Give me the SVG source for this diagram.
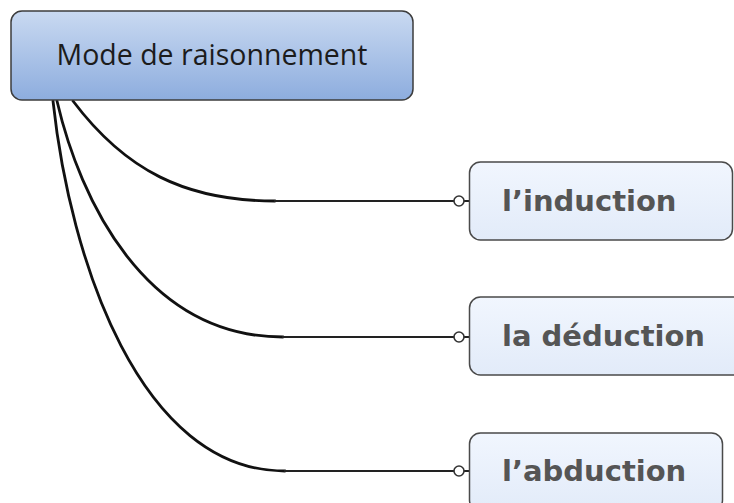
<svg xmlns="http://www.w3.org/2000/svg" width="734" height="503" viewBox="0 0 734 503">
<defs>
<linearGradient id="gMain" x1="0" y1="0" x2="0" y2="1">
<stop offset="0" stop-color="#c9d9f1"/>
<stop offset="1" stop-color="#8dadde"/>
</linearGradient>
<linearGradient id="gChild" x1="0" y1="0" x2="0" y2="1">
<stop offset="0" stop-color="#f1f6fe"/>
<stop offset="1" stop-color="#e2ebf9"/>
</linearGradient>
<style>
.main{fill:url(#gMain);stroke:#3c3c3c;stroke-width:1.5}
.child{fill:url(#gChild);stroke:#4a4a4a;stroke-width:1.5}
.mt{font-family:"Open Sans","Liberation Sans",sans-serif;font-size:28.5px;fill:#1c1c1c}
.ct{font-family:"DejaVu Sans","Liberation Sans",sans-serif;font-weight:bold;font-size:29px;fill:#555555}
.curve{fill:none;stroke:#111;stroke-width:2.8;stroke-linecap:round}
.hline{fill:none;stroke:#222;stroke-width:2}
.dot{fill:#fff;stroke:#333;stroke-width:1.6}
</style>
</defs>
<g id="connectors">
<path class="curve" d="M73,101 C125,170 185,201 275,201"/>
<path class="hline" d="M274,201 H454 M464,201 H470"/>
<circle class="dot" cx="459" cy="201" r="5"/>
<path class="curve" d="M57,101 C80,200 145,337 283,337"/>
<path class="hline" d="M282,337 H454 M464,337 H470"/>
<circle class="dot" cx="459" cy="337" r="5"/>
<path class="curve" d="M53,101 C70,260 140,471 285,471"/>
<path class="hline" d="M284,471 H454 M464,471 H470"/>
<circle class="dot" cx="459" cy="471" r="5"/>
</g>
<g id="node-main">
<rect class="main" x="11" y="11" width="402" height="89" rx="11"/>
<text class="mt" x="212" y="65" text-anchor="middle">Mode de raisonnement</text>
</g>
<g id="node-induction">
<rect class="child" x="469.5" y="162" width="263" height="78" rx="11"/>
<text class="ct" x="502" y="211">l’induction</text>
</g>
<g id="node-deduction">
<rect class="child" x="469.5" y="297" width="275" height="78" rx="11"/>
<text class="ct" x="502" y="346">la déduction</text>
</g>
<g id="node-abduction">
<rect class="child" x="469.5" y="433" width="253" height="78" rx="11"/>
<text class="ct" x="502" y="481">l’abduction</text>
</g>
</svg>
